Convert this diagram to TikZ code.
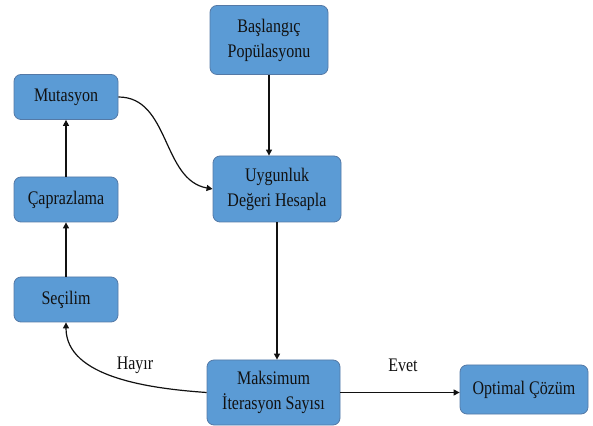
\documentclass[tikz,border=0pt]{standalone}
\usepackage{fontspec}
\usepackage{graphicx}
\setmainfont{Liberation Serif}
\usetikzlibrary{arrows.meta}
\definecolor{boxfill}{HTML}{5B9BD5}
\definecolor{boxline}{HTML}{5479A6}
\definecolor{ink}{HTML}{111111}
\newcommand{\tl}[1]{\scalebox{1}[1.2]{#1}}

\tikzset{
  stepbox/.style={draw=boxline,line width=0.8pt,fill=boxfill,rounded corners=7pt,
                  align=center,inner sep=2pt,text=ink,font=\fontsize{16}{25}\selectfont},
  flow/.style={draw=ink,line width=1.2pt,-{Triangle[length=6pt,width=6pt]}},
  tag/.style={text=ink,font=\fontsize{16}{20}\selectfont}
}

\begin{document}
\begin{tikzpicture}[x=1pt,y=1pt]
  \useasboundingbox (0,0) rectangle (593,425);

  % boxes
  \node[stepbox,minimum width=118pt,minimum height=69pt] (basla) at (269,385) {\tl{Başlangıç}\\\tl{Popülasyonu}};
  \node[stepbox,minimum width=104pt,minimum height=45pt] (mutas) at (66,328) {\tl{Mutasyon}};
  \node[stepbox,minimum width=128pt,minimum height=66pt] (uygun) at (277,236) {\tl{Uygunluk}\\\tl{Değeri Hesapla}};
  \node[stepbox,minimum width=104pt,minimum height=45pt] (capraz) at (66,225.5) {\tl{Çaprazlama}};
  \node[stepbox,minimum width=104pt,minimum height=45pt] (secil) at (66,125.5) {\tl{Seçilim}};
  \node[stepbox,minimum width=133pt,minimum height=65pt] (maks) at (273.5,32.5) {\tl{Maksimum}\\\tl{İterasyon Sayısı}};
  \node[stepbox,minimum width=128pt,minimum height=49pt] (optim) at (524,35.5) {\tl{Optimal Çözüm}};

  % labels
  \node[tag] (hayir) at (135,60) {\tl{Hayır}};
  \node[tag] (evet) at (403,60) {\tl{Evet}};

  % connectors
  \draw[flow] (basla.south) -- (basla.south |- uygun.north);
  \draw[flow] (uygun.south) -- (uygun.south |- maks.north);
  \draw[flow] (maks.east) -- (maks.east -| optim.west);
  \draw[flow] (secil.north) -- (capraz.south);
  \draw[flow] (capraz.north) -- (mutas.south);
  \draw[flow] (mutas.east) to[out=0,in=170] (uygun.west);
  \draw[flow] (maks.west) to[out=176,in=-90,looseness=0.9] (secil.south);
\end{tikzpicture}
\end{document}
